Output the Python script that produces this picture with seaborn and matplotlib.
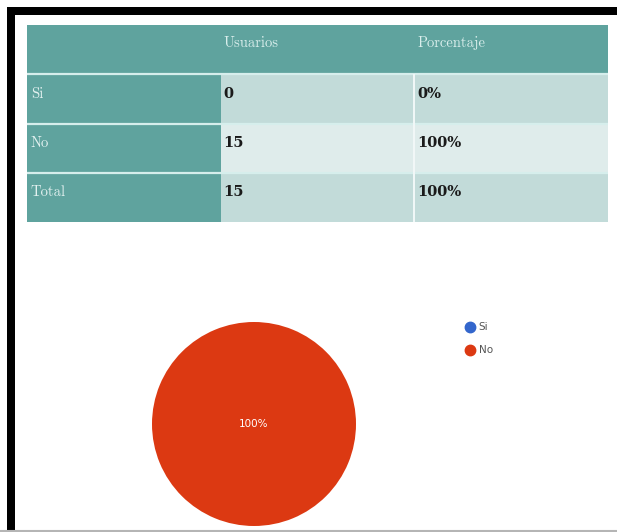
import numpy as np
import pandas as pd
import seaborn as sns
import matplotlib.pyplot as plt
from matplotlib.colors import ListedColormap
from matplotlib.lines import Line2D
from matplotlib.patches import Rectangle

# ---- data -------------------------------------------------------------
categories = ["Si", "No"]
usuarios = [0, 15]
porcentaje = [0, 100]
header = ["", "Usuarios", "Porcentaje"]
row_labels = ["Si", "No", "Total"]
usuarios_text = ["0", "15", "15"]
porcentaje_text = ["0%", "100%", "100%"]

pie_colors = ["#3366cc", "#dc3912"]
teal = "#5fa39e"
light_a = "#c2dbd9"
light_b = "#dfeceb"

sns.set_theme(style="white")
plt.rcParams["font.family"] = ["DejaVu Sans"]

W, H = 617, 532
fig = plt.figure(figsize=(W / 100, H / 100), dpi=100)
fig.patch.set_facecolor("white")


def box(left, top, right, bottom):
    return [left / W, 1 - bottom / H, (right - left) / W, (bottom - top) / H]


# ---- frame ------------------------------------------------------------
fig.add_artist(Rectangle((7 / W, 0), 8 / W, 1 - 7 / H, transform=fig.transFigure,
                         facecolor="black", edgecolor="none"))
fig.add_artist(Rectangle((7 / W, 1 - 15 / H), 1, 8 / H, transform=fig.transFigure,
                         facecolor="black", edgecolor="none"))
fig.add_artist(Line2D([0, 1], [1 - 531 / H] * 2, transform=fig.transFigure,
                      color="#b5b5b5", lw=1.5))

# ---- table ------------------------------------------------------------
ax_t = fig.add_axes(box(27, 25, 608, 222))
codes = np.array([[0, 0, 0],
                  [0, 1, 1],
                  [0, 2, 2],
                  [0, 1, 1]])
table_df = pd.DataFrame(codes, columns=header)
sns.heatmap(table_df, ax=ax_t, cmap=ListedColormap([teal, light_a, light_b]),
            vmin=-0.5, vmax=2.5, cbar=False, linewidths=0,
            xticklabels=False, yticklabels=False)
ax_t.hlines([1, 2, 3], 0, 3, colors="#d6eeec", lw=1.6)
ax_t.vlines([2], 1, 4, colors="#f2f8f8", lw=1.4)

serif = "cmr10"
pads = [0.02, 0.015, 0.015]
for j, txt in enumerate(header):
    ax_t.text(j + pads[j], 0.5 - 0.13, txt, ha="left", va="center",
              fontsize=10.5, family=serif, color="#d9eeec")
body = [row_labels, usuarios_text, porcentaje_text]
for j, col in enumerate(body):
    for i, txt in enumerate(col):
        if j == 0:
            ax_t.text(j + pads[j], i + 1.5 - 0.1, txt, ha="left", va="center",
                      fontsize=10.5, family=serif, color="#e3f1f0")
        else:
            ax_t.text(j + pads[j], i + 1.5 - 0.1, txt, ha="left", va="center",
                      fontsize=10.5, family="DejaVu Serif", fontweight="bold",
                      color="#1a1a1a")

# ---- pie --------------------------------------------------------------
ax_p = fig.add_axes(box(152, 322, 356, 526))
ax_p.pie(usuarios, colors=pie_colors, startangle=90, counterclock=False,
         autopct=lambda p: f"{p:.0f}%" if p > 0 else "",
         textprops=dict(color="white", fontsize=7.5),
         pctdistance=0.0, wedgeprops=dict(linewidth=0))
ax_p.set_xlim(-1, 1)
ax_p.set_ylim(-1, 1)
ax_p.set_aspect("equal")
ax_p.axis("off")

handles = [Line2D([], [], marker="o", linestyle="none", markersize=7.5,
                  markerfacecolor=c, markeredgecolor=c) for c in pie_colors]
fig.legend(handles, categories, loc="upper left",
           bbox_to_anchor=(459 / W, 1 - 317 / H), frameon=False,
           fontsize=7.5, labelspacing=1.25, handletextpad=0.2,
           handlelength=1.2, borderpad=0, labelcolor="#555555")

fig.savefig("out.png", dpi=100)
